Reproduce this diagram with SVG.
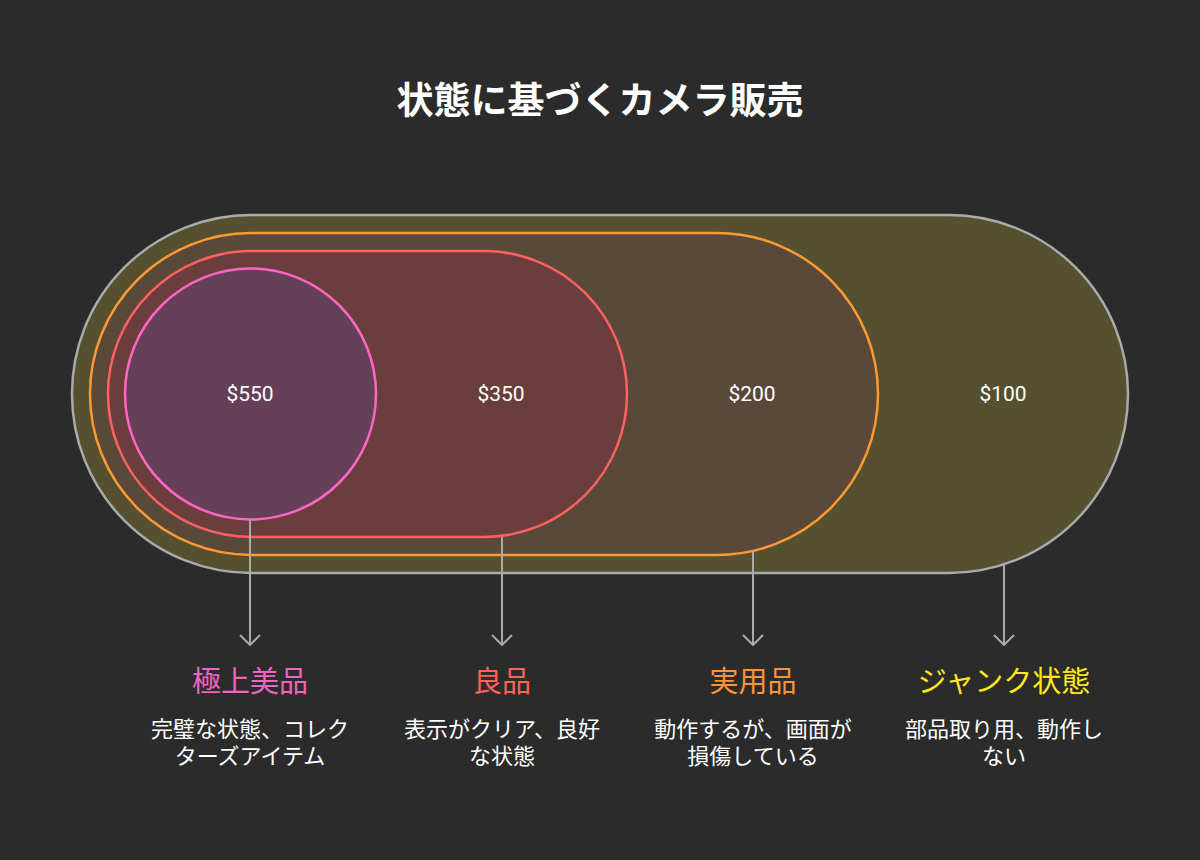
<svg xmlns="http://www.w3.org/2000/svg" width="1200" height="860" viewBox="0 0 1200 860">
<defs>
<style>
.price{font-family:Roboto,"Noto Sans CJK JP",sans-serif;font-size:21px;fill:#ffffff;text-anchor:middle}
.title{font-family:"Noto Sans CJK JP",sans-serif;font-size:37px;font-weight:bold;fill:#ffffff;text-anchor:middle}
.lbl{font-family:"Noto Sans CJK JP",sans-serif;font-size:29px;text-anchor:middle}
.desc{font-family:"Noto Sans CJK JP",sans-serif;font-size:22px;fill:#ffffff;text-anchor:middle}
.conn{stroke:#aaaaaa;stroke-width:2;fill:none}
</style>
<marker id="ah" viewBox="0 0 12 22" refX="11" refY="11" markerWidth="12" markerHeight="22" markerUnits="userSpaceOnUse" orient="auto">
<path d="M1,1 L11,11 L1,21" fill="none" stroke="#aaaaaa" stroke-width="2"/>
</marker>
</defs>
<rect width="1200" height="860" fill="#2b2b2b"/>
<text class="title" x="600" y="114">状態に基づくカメラ販売</text>
<g id="junk">
<rect x="72" y="215" width="1056" height="358" rx="179" fill="#545030" stroke="#aaaaaa" stroke-width="2.5"/>
<text class="price" x="1003" y="401">$100</text>
</g>
<g id="practical">
<rect x="90" y="233" width="788" height="322" rx="161" fill="#5a4838" stroke="#ff9933" stroke-width="2.5"/>
<text class="price" x="752" y="401">$200</text>
</g>
<g id="good">
<rect x="108" y="251" width="519" height="286" rx="143" fill="#6a3e3c" stroke="#ff6060" stroke-width="2.5"/>
<text class="price" x="501" y="401">$350</text>
</g>
<g id="mint">
<circle cx="250.5" cy="394" r="125.5" fill="#663f58" stroke="#ff66c4" stroke-width="2.5"/>
<text class="price" x="250" y="401">$550</text>
</g>
<g id="connectors">
<line class="conn" x1="250" y1="519" x2="250" y2="645" marker-end="url(#ah)"/>
<line class="conn" x1="502" y1="537" x2="502" y2="645" marker-end="url(#ah)"/>
<line class="conn" x1="753" y1="551" x2="753" y2="645" marker-end="url(#ah)"/>
<line class="conn" x1="1004" y1="564" x2="1004" y2="645" marker-end="url(#ah)"/>
</g>
<g id="label-mint">
<text class="lbl" x="250" y="692" fill="#f562c0">極上美品</text>
<text class="desc" x="250" y="737">完璧な状態、コレク</text>
<text class="desc" x="250" y="764">ターズアイテム</text>
</g>
<g id="label-good">
<text class="lbl" x="502" y="692" fill="#ff6456">良品</text>
<text class="desc" x="502" y="737">表示がクリア、良好</text>
<text class="desc" x="502" y="764">な状態</text>
</g>
<g id="label-practical">
<text class="lbl" x="753" y="692" fill="#ff9433">実用品</text>
<text class="desc" x="753" y="737">動作するが、画面が</text>
<text class="desc" x="753" y="764">損傷している</text>
</g>
<g id="label-junk">
<text class="lbl" x="1004" y="692" fill="#ffe81a">ジャンク状態</text>
<text class="desc" x="1004" y="737">部品取り用、動作し</text>
<text class="desc" x="1004" y="764">ない</text>
</g>
</svg>
